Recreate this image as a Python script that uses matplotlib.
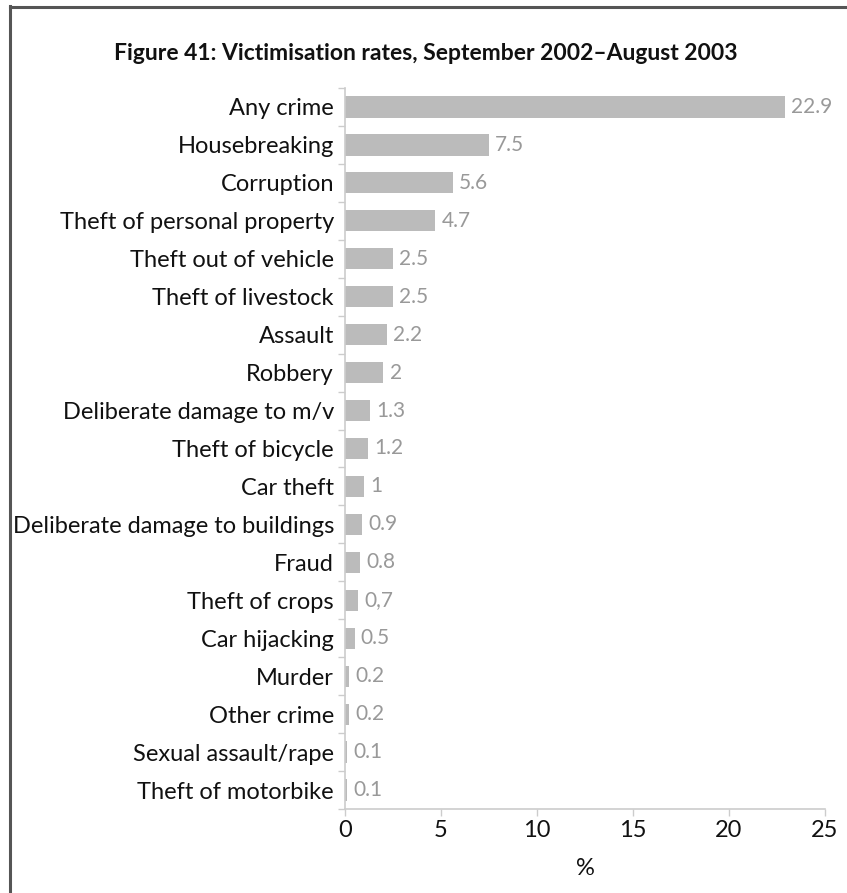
import matplotlib
matplotlib.use("Agg")
import matplotlib.pyplot as plt
import numpy as np

categories = [
    "Any crime", "Housebreaking", "Corruption", "Theft of personal property",
    "Theft out of vehicle", "Theft of livestock", "Assault", "Robbery",
    "Deliberate damage to m/v", "Theft of bicycle", "Car theft",
    "Deliberate damage to buildings", "Fraud", "Theft of crops",
    "Car hijacking", "Murder", "Other crime", "Sexual assault/rape",
    "Theft of motorbike",
]
values = [22.9, 7.5, 5.6, 4.7, 2.5, 2.5, 2.2, 2.0, 1.3, 1.2, 1.0,
          0.9, 0.8, 0.7, 0.5, 0.2, 0.2, 0.1, 0.1]
value_labels = ["22.9", "7.5", "5.6", "4.7", "2.5", "2.5", "2.2", "2", "1.3",
                "1.2", "1", "0.9", "0.8", "0,7", "0.5", "0.2", "0.2", "0.1", "0.1"]
x_ticks = [0, 5, 10, 15, 20, 25]
title = "Figure 41: Victimisation rates, September 2002\u2013August 2003"

plt.rcParams["font.family"] = ["Lato", "DejaVu Sans"]

W, H = 847, 893
fig = plt.figure(figsize=(W / 100, H / 100), dpi=100)

# frame on left and top edges
fig.add_artist(plt.Line2D([9.5 / W, 9.5 / W], [0, 1 - 6 / H], transform=fig.transFigure,
                          color="#555555", lw=2.2))
fig.add_artist(plt.Line2D([9.5 / W, 1], [1 - 6.5 / H, 1 - 6.5 / H], transform=fig.transFigure,
                          color="#555555", lw=2.2))

fig.text(426 / W, 1 - 53 / H, title, ha="center", va="center",
         fontsize=16.5, fontweight="bold", color="#111111")

left, right = 345, 825
top, bottom = 88, 809
ax = fig.add_axes([left / W, 1 - bottom / H, (right - left) / W, (bottom - top) / H])

n = len(categories)
y = np.arange(n)
ax.barh(y, values, height=0.56, color="#bbbbbb", edgecolor="none")
ax.set_ylim(n - 0.5, -0.5)
ax.set_xlim(0, 25)

for yi, v, lab in zip(y, values, value_labels):
    ax.annotate(lab, (v, yi), xytext=(4.5, 0), textcoords="offset points",
                ha="left", va="center", fontsize=15, color="#999999")

ax.set_yticks(y)
ax.set_yticklabels(categories, fontsize=17, color="#111111")
ax.set_yticks(np.arange(-0.5, n, 1), minor=True)
ax.tick_params(axis="y", which="major", length=0, pad=8)
ax.tick_params(axis="y", which="minor", length=5, color="#cccccc", width=1)

ax.set_xticks(x_ticks)
ax.set_xticklabels([str(t) for t in x_ticks], fontsize=17, color="#111111")
ax.tick_params(axis="x", length=5, color="#cccccc", width=1, pad=3)
ax.set_xlabel("%", fontsize=17, color="#111111", labelpad=12)

for s in ["top", "right"]:
    ax.spines[s].set_visible(False)
for s in ["left", "bottom"]:
    ax.spines[s].set_color("#cccccc")
    ax.spines[s].set_linewidth(1.2)

fig.savefig("out.png", dpi=100, facecolor="white")
